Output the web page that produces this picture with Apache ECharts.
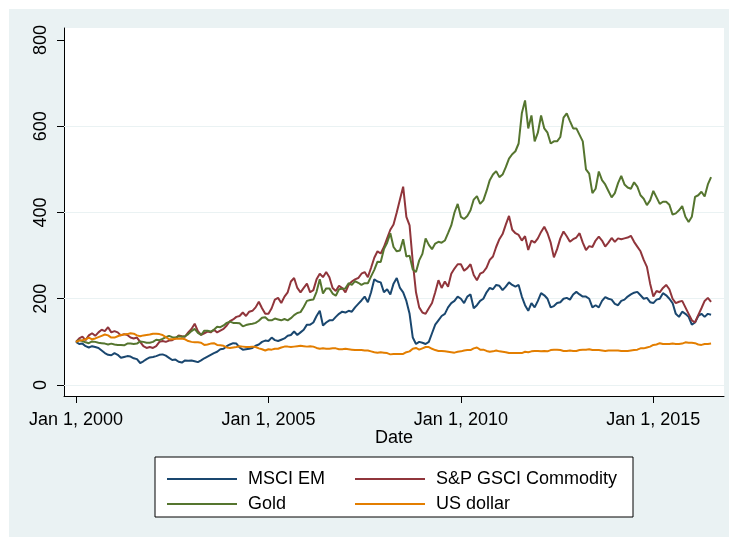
<!DOCTYPE html>
<html>
<head>
<meta charset="utf-8">
<script src="https://cdn.jsdelivr.net/npm/echarts@6/dist/echarts.min.js"></script>
<style>
  html, body { margin: 0; padding: 0; background: #fff; }
  #chart { position: absolute; left: 9px; top: 9px; width: 720px; height: 528px; }
</style>
</head>
<body>
<div id="chart"></div>
<script>
// monthly, Jan 2000 .. Jul 2016, index 2000-01 = 100
const startYear = 2000;
const seriesNames = ['MSCI EM', 'S&P GSCI Commodity', 'Gold', 'US dollar'];
const xTicks = [2000, 2005, 2010, 2015];
const yTicks = [0, 200, 400, 600, 800];
const gridValues = [0, 200, 400, 600];

const msciEm = [
  100, 95, 96, 90, 87, 90, 88, 86, 80, 74, 70, 69,
  74, 70, 63, 65, 67, 66, 62, 60, 51, 55, 60, 64,
  65, 67, 70, 71, 68, 63, 58, 59, 54, 52, 57, 56,
  57, 55, 53, 57, 62, 66, 70, 74, 77, 83, 84, 90,
  94, 97, 96, 87, 82, 83, 84, 86, 91, 94, 100, 103,
  102, 110, 104, 102, 105, 108, 114, 116, 124, 116, 122, 128,
  140, 140, 145, 160, 172, 138, 145, 150, 150, 158, 165, 170,
  168, 172, 170, 180, 188, 196, 205, 192, 215, 245, 240, 238,
  215, 222, 210, 235, 248, 225, 215, 195, 165, 110, 95, 100,
  98, 95, 100, 120, 140, 150, 160, 165, 180, 190, 195, 205,
  200, 190, 205, 210, 178, 185, 195, 200, 215, 225, 222, 232,
  230, 220, 228, 238, 232, 228, 232, 205, 185, 172, 190, 180,
  195, 213, 208, 200, 180, 183, 190, 192, 200, 202, 198, 210,
  216, 210, 205, 205, 200, 180, 185, 180, 195, 204, 200, 198,
  188, 185, 195, 198, 205, 210, 214, 216, 208, 200, 202, 192,
  190, 198, 200, 213, 208, 200, 190, 165, 158, 170, 165, 158,
  140, 145, 160, 165, 158, 165, 163
];
const gsci = [
  100, 108, 112, 104, 115, 120, 114, 122, 128, 125, 134, 122,
  125, 122, 115, 118, 116, 110, 108, 110, 100, 90, 86, 88,
  86, 90, 100, 102, 100, 103, 104, 108, 115, 113, 112, 122,
  130, 142, 125, 116, 120, 124, 122, 128, 122, 126, 130, 138,
  148, 152, 158, 160, 168, 160, 170, 172, 180, 193, 178, 165,
  165, 178, 198, 202, 190, 205, 215, 240, 248, 225, 215, 225,
  235, 215, 220, 245, 258, 250, 262, 250, 225, 218, 230, 225,
  215, 232, 240, 245, 248, 258, 262, 250, 272, 295, 310, 305,
  320, 340, 360, 372, 400, 430, 460, 390, 370, 285, 215, 180,
  168, 165, 178, 190, 215, 243, 225, 240, 228, 258, 270, 280,
  280, 265, 271, 280, 255, 243, 258, 262, 272, 290, 298, 320,
  338, 350, 372, 392, 360, 352, 348, 335, 345, 313, 335, 330,
  340, 355, 367, 352, 330, 296, 315, 340, 356, 345, 332, 338,
  342, 352, 330, 313, 322, 320, 335, 344, 335, 321, 330, 341,
  332, 340, 338, 340, 342, 346, 332, 321, 310, 290, 274, 235,
  205, 218, 215, 225, 232, 222, 200, 190, 193, 195, 180, 165,
  150, 145, 162, 178, 195, 202, 193
];
const gold = [
  100, 104, 102, 99, 97, 101, 100, 98, 97, 96, 94, 96,
  94, 93, 93, 92, 96, 96, 95, 96, 101, 100, 98, 98,
  100, 105, 104, 107, 111, 114, 111, 110, 113, 112, 113, 118,
  125, 130, 121, 116, 126, 126, 124, 128, 135, 134, 138, 144,
  147, 144, 144, 143, 136, 139, 141, 142, 144, 149, 156, 157,
  150, 150, 154, 152, 150, 153, 150, 155, 162, 167, 169, 181,
  195, 197, 198, 216, 245, 212, 224, 224, 212, 207, 222, 223,
  224, 236, 232, 241, 237, 232, 236, 236, 252, 267, 286, 285,
  315, 330, 352, 320, 310, 312, 338, 298, 300, 268, 262, 289,
  304, 340, 325, 315, 328, 332, 330, 335, 352, 370, 400, 420,
  390, 385, 392, 405, 430, 438, 420, 428, 450, 475, 488, 496,
  482, 488, 505, 525, 535, 542, 560, 630, 660, 595, 625, 565,
  585, 625, 595, 585, 560, 565, 565, 575, 620, 630, 612, 595,
  595, 580, 565, 500, 490, 445, 455, 495, 475, 465, 450, 435,
  445, 468, 485, 465, 458, 455, 470, 460, 440, 432, 417, 428,
  450, 435, 420, 425, 425, 418, 395, 398, 405, 415, 390, 378,
  390, 436, 440, 448, 437, 465, 482
];
const usDollar = [
  100, 103, 104, 106, 110, 106, 108, 111, 114, 117, 115, 110,
  110, 113, 116, 117, 118, 120, 119, 115, 113, 115, 116, 117,
  119, 119, 118, 116, 111, 106, 106, 107, 107, 108, 106, 102,
  100, 99, 99, 98, 93, 94, 96, 97, 93, 92, 91, 87,
  86, 87, 88, 90, 89, 88, 88, 89, 88, 85, 83, 80,
  83, 82, 84, 84, 87, 89, 89, 88, 89, 90, 91, 90,
  89, 90, 89, 86, 84, 85, 84, 84, 85, 85, 83, 83,
  84, 83, 82, 81, 81, 81, 80, 80, 78, 76, 75, 76,
  75, 74, 71, 72, 72, 72, 72, 76, 78, 84, 86, 82,
  85, 88, 88, 84, 81, 79, 79, 78, 77, 76, 75, 77,
  78, 80, 81, 81, 85, 87, 82, 82, 79, 77, 78, 80,
  78, 77, 76, 74, 74, 74, 74, 74, 77, 76, 78, 79,
  79, 78, 79, 78, 81, 82, 82, 81, 79, 79, 80, 79,
  79, 81, 82, 82, 83, 81, 81, 81, 80, 79, 80, 80,
  80, 80, 79, 79, 79, 80, 81, 82, 85, 85, 87, 89,
  93, 94, 97, 95, 95, 95, 96, 95, 95, 96, 99, 98,
  98, 97, 94, 93, 95, 95, 96
];

const colors = ['#1a476f', '#90353b', '#55752f', '#e37e00'];
const values = [msciEm, gsci, gold, usDollar];

function toPoints(arr) {
  return arr.map((v, i) => [startYear + i / 12, v]);
}

const chart = echarts.init(document.getElementById('chart'));
const font = 'Liberation Sans, Arial, Helvetica, sans-serif';

const series = [{
  // gridlines
  type: 'line',
  data: [],
  silent: true,
  z: 1,
  markLine: {
    z: 1,
    silent: true,
    symbol: 'none',
    label: { show: false },
    lineStyle: { color: '#eaf2f3', width: 1, type: 'solid' },
    animation: false,
    data: gridValues.map(v => ({ yAxis: v }))
  }
}];
seriesNames.forEach((name, k) => {
  series.push({
    name: name,
    type: 'line',
    data: toPoints(values[k]),
    showSymbol: false,
    color: colors[k],
    lineStyle: { width: 2, color: colors[k] },
    z: 3 + k
  });
});

const legendBase = {
  orient: 'vertical',
  top: 455,
  icon: 'rect',
  itemWidth: 70,
  itemHeight: 2,
  itemGap: 5,
  selectedMode: false,
  textStyle: { fontFamily: font, fontSize: 18, color: '#000', lineHeight: 20, padding: [0, 0, 0, 6] }
};

chart.setOption({
  animation: false,
  backgroundColor: '#eaf2f3',
  textStyle: { fontFamily: font },
  grid: {
    left: 55, top: 19, right: 5, bottom: 141,
    show: true, backgroundColor: '#fff', borderWidth: 0
  },
  graphic: [{
    type: 'rect',
    z: 0,
    shape: { x: 146, y: 448, width: 478, height: 60 },
    style: { fill: '#fff', stroke: '#000', lineWidth: 1 }
  }],
  legend: [
    Object.assign({}, legendBase, { left: 153, data: ['MSCI EM', 'Gold'] }),
    Object.assign({}, legendBase, { left: 341, data: ['S&P GSCI Commodity', 'US dollar'] })
  ],
  xAxis: {
    type: 'value',
    min: 1999.688,
    max: 2016.836,
    name: 'Date',
    nameLocation: 'middle',
    nameGap: 33,
    nameMoveOverlap: false,
    nameTextStyle: { fontFamily: font, fontSize: 18, color: '#000' },
    axisLine: { show: true, onZero: false, lineStyle: { color: '#000', width: 1 } },
    axisTick: { show: true, length: 7, customValues: xTicks, lineStyle: { color: '#000' } },
    axisLabel: {
      customValues: xTicks,
      margin: 15,
      fontFamily: font, fontSize: 18, color: '#000',
      formatter: v => 'Jan 1, ' + v
    },
    splitLine: { show: false }
  },
  yAxis: {
    type: 'value',
    min: -25.5,
    max: 827.8,
    axisLine: { show: true, onZero: false, lineStyle: { color: '#000', width: 1 } },
    axisTick: { show: true, length: 7, customValues: yTicks, lineStyle: { color: '#000' } },
    axisLabel: {
      customValues: yTicks,
      rotate: 90,
      margin: 14,
      fontFamily: font, fontSize: 18, color: '#000'
    },
    splitLine: { show: false }
  },
  series: series
});
</script>
</body>
</html>
